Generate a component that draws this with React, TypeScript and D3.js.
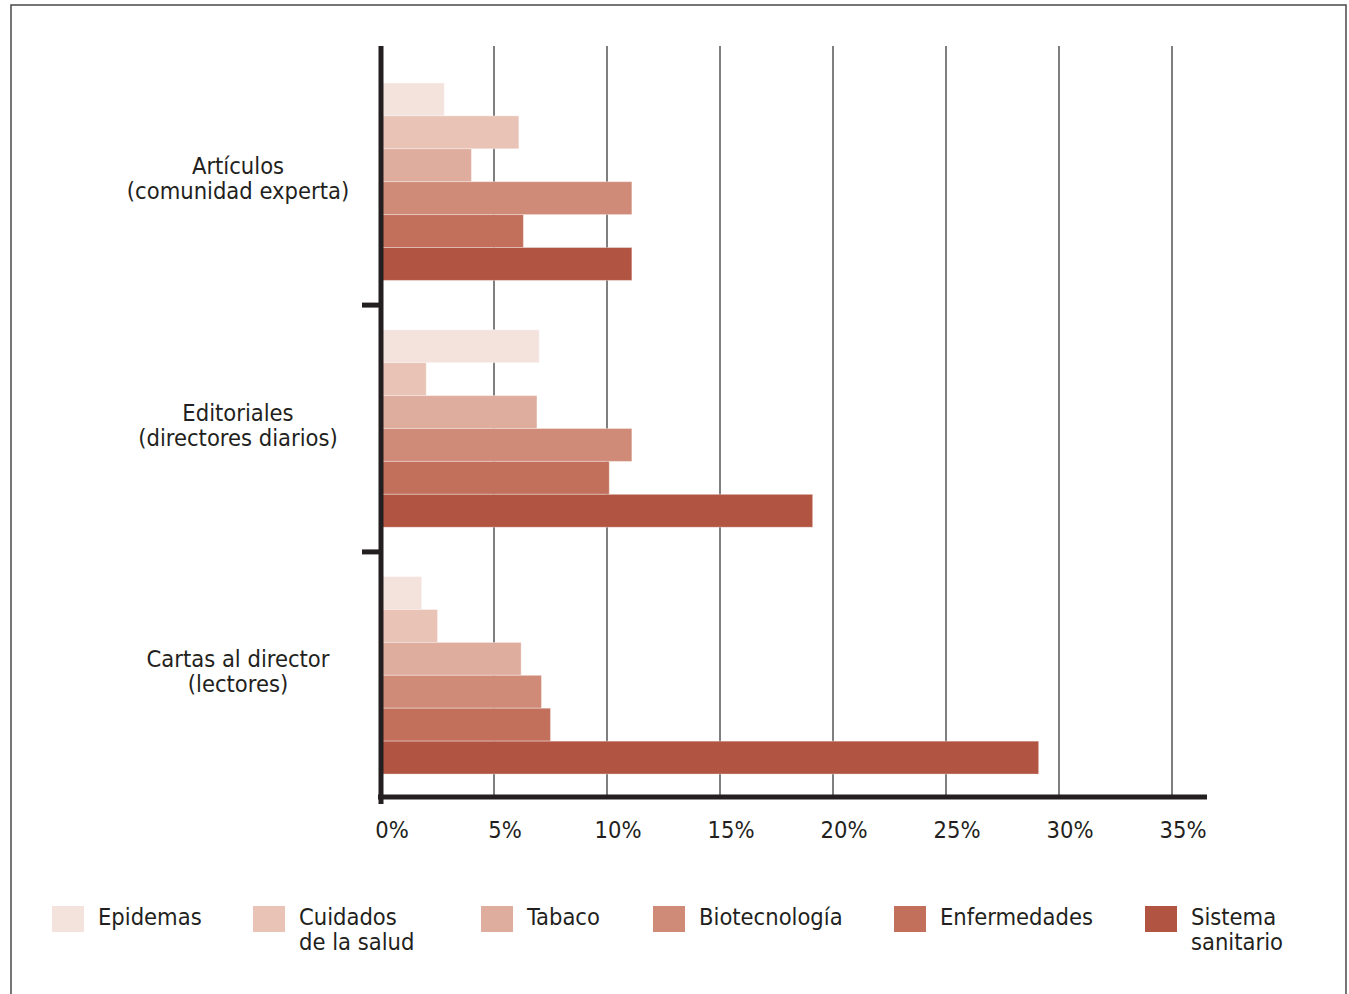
import React from "react";
import * as d3 from "d3";

const WIDTH = 1349;
const HEIGHT = 994;
const FONT = "'Liberation Sans Narrow', 'DejaVu Sans Condensed', 'Arial Narrow', sans-serif";
const FS = 23.5;

const categories = ["Artículos", "Editoriales", "Cartas al director"];
const categoryLines: string[][] = [
  ["Artículos", "(comunidad experta)"],
  ["Editoriales", "(directores diarios)"],
  ["Cartas al director", "(lectores)"],
];

const series = ["Epidemas", "Cuidados de la salud", "Tabaco", "Biotecnología", "Enfermedades", "Sistema sanitario"];
const seriesLines: string[][] = [
  ["Epidemas"],
  ["Cuidados", "de la salud"],
  ["Tabaco"],
  ["Biotecnología"],
  ["Enfermedades"],
  ["Sistema", "sanitario"],
];
const colors = ["#f4e3dd", "#e8c3b6", "#dfad9e", "#d08a78", "#c26f5b", "#b25442"];

// values in %, one array per category, in series order
const articulos = [2.8, 6.1, 4.0, 11.1, 6.3, 11.1];
const editoriales = [7.0, 2.0, 6.9, 11.1, 10.1, 19.1];
const cartas = [1.8, 2.5, 6.2, 7.1, 7.5, 29.1];
const values = [articulos, editoriales, cartas];

const xTicks = [0, 5, 10, 15, 20, 25, 30, 35];

// legend square x positions (left edge)
const legendX = [52, 253, 481, 653, 894, 1145];

const App: React.FC = () => {
  const x = d3.scaleLinear().domain([0, 35]).range([381, 1172]);
  const y = d3
    .scaleBand<string>()
    .domain(categories)
    .range([60, 797])
    .paddingInner(0.2)
    .paddingOuter(0.093);
  const inner = d3.scaleBand<string>().domain(series).range([0, y.bandwidth()]);
  const color = d3.scaleOrdinal<string, string>().domain(series).range(colors);

  const top = 46;
  const base = 797;
  const gap = y.step() * y.paddingInner();
  const separators = categories.slice(0, -1).map((c) => (y(c) as number) + y.bandwidth() + gap / 2);

  return (
    <svg
      width={WIDTH}
      height={HEIGHT}
      style={{ position: "absolute", left: 0, top: 0, background: "#fff" }}
      fontFamily={FONT}
    >
      <rect x={11} y={5} width={1335} height={1100} fill="#fff" stroke="#4a4a4a" strokeWidth={1.5} />

      {/* gridlines */}
      {xTicks.slice(1).map((t) => (
        <line key={t} x1={x(t)} x2={x(t)} y1={top} y2={base} stroke="#555" strokeWidth={1.5} />
      ))}

      {/* bars */}
      {categories.map((c, ci) => (
        <g key={c} transform={`translate(0, ${y(c)})`}>
          {series.map((s, si) => (
            <rect
              key={s}
              x={x(0)}
              y={inner(s)}
              width={x(values[ci][si]) - x(0)}
              height={inner.bandwidth()}
              fill={color(s)}
              stroke="#fff"
              strokeOpacity={0.35}
              strokeWidth={1}
            />
          ))}
        </g>
      ))}

      {/* category labels */}
      {categories.map((c, ci) => {
        const cy = (y(c) as number) + y.bandwidth() / 2;
        return (
          <text key={c} x={238} y={cy - 8} textAnchor="middle" fontSize={FS} fill="#231f20">
            {categoryLines[ci].map((l, li) => (
              <tspan key={li} x={238} dy={li === 0 ? 0 : 25}>
                {l}
              </tspan>
            ))}
          </text>
        );
      })}

      {/* axes */}
      <line x1={x(0)} x2={x(0)} y1={top} y2={base + 7} stroke="#231f20" strokeWidth={5} />
      <line x1={x(0) - 3} x2={1207} y1={base} y2={base} stroke="#231f20" strokeWidth={5} />
      {separators.map((s, i) => (
        <line key={i} x1={362} x2={x(0)} y1={s} y2={s} stroke="#231f20" strokeWidth={5} />
      ))}
      {xTicks.map((t) => (
        <text key={t} x={x(t) + 11} y={838} textAnchor="middle" fontSize={FS} fill="#231f20">
          {t}%
        </text>
      ))}

      {/* legend */}
      {series.map((s, si) => (
        <g key={s} transform={`translate(${legendX[si]}, 906)`}>
          <rect width={32} height={26} fill={color(s)} />
          <text x={46} y={19} fontSize={FS} fill="#231f20">
            {seriesLines[si].map((l, li) => (
              <tspan key={li} x={46} dy={li === 0 ? 0 : 25}>
                {l}
              </tspan>
            ))}
          </text>
        </g>
      ))}
    </svg>
  );
};

export default App;
